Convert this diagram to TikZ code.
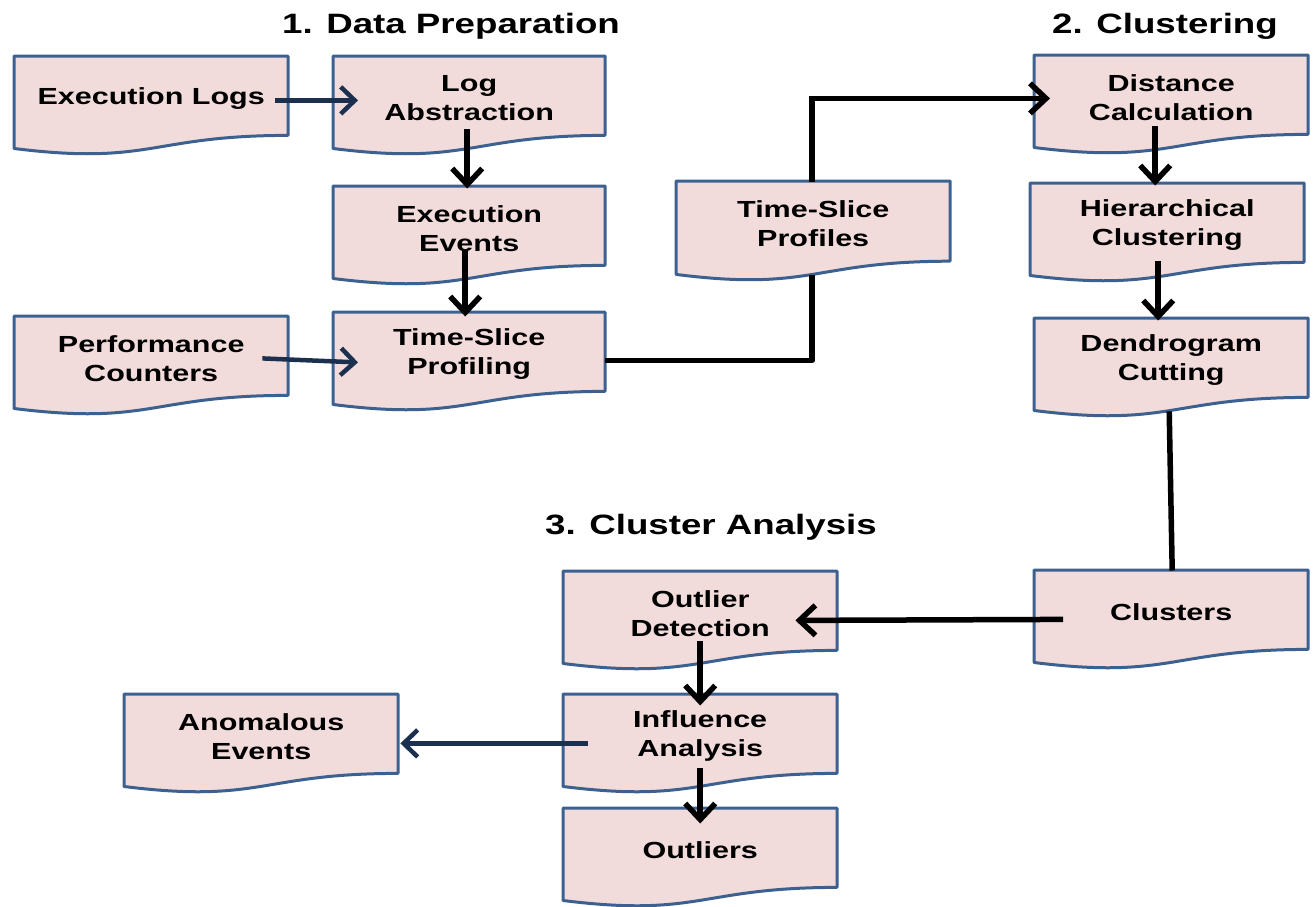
\documentclass[tikz,border=0pt]{standalone}
\usepackage{fontspec}
\newfontfamily\dfont{Liberation Sans}[FakeStretch=1.31]
\usetikzlibrary{arrows.meta,calc}
\pgfdeclarelayer{background}
\pgfsetlayers{background,main}

\definecolor{docfill}{HTML}{F2DCDB}
\definecolor{docline}{HTML}{3C6191}
\definecolor{navy}{HTML}{1B2F4F}

\tikzset{
  doctext/.style={inner sep=0pt, align=center, anchor=north west,
    font=\dfont\bfseries\fontsize{23.3}{29}\selectfont},
  docshape/.style={draw=docline, fill=docfill, line width=3pt, line join=round},
  heading/.style={anchor=base, font=\dfont\bfseries\fontsize{28}{32}\selectfont},
  flow/.style={draw=black, line width=5.5pt,
    -{Straight Barb[length=16pt,width=30pt]}},
  link/.style={draw=black, line width=5.5pt},
  feed/.style={draw=navy, line width=4.5pt,
    -{Straight Barb[length=14pt,width=27pt]}},
}

% \docbox{name}{x}{y}{width}{height}{text}: flowchart document symbol
% (outline from the raw corner; text node sits slightly lower)
\newcommand\docbox[6]{%
  \node[doctext, minimum width=#4pt, minimum height={0.802*#5pt}] (#1) at (#2,{#3+2.5}) {#6};
  \begin{pgfonlayer}{background}
    \path[docshape] (#2,#3) -- ({#2+#4},#3) -- ({#2+#4},{#3+0.802*#5})
      .. controls ({#2+0.5*#4},{#3+0.802*#5}) and ({#2+0.5*#4},{#3+1.1075*#5})
      .. (#2,{#3+0.934*#5}) -- cycle;
  \end{pgfonlayer}}

\begin{document}
\begin{tikzpicture}[x=1pt,y=-1pt]
\useasboundingbox (0,0) rectangle (1313,906);

% section headings
\node[heading] (h1) at (451,33) {1. Data Preparation};
\node[heading] (h2) at (1165,33) {2. Clustering};
\node[heading] (h3) at (711,534) {3. Cluster Analysis};

% 1. data preparation
\docbox{el}{14}{56}{274}{99}{Execution Logs}
\docbox{la}{333}{56}{272}{99}{Log\\Abstraction}
\docbox{ee}{333}{186}{272}{99}{Execution\\Events}
\docbox{pc}{14}{316}{274}{99}{Performance\\Counters}
\docbox{tsp}{333}{312}{272}{99}{Time-Slice\\Profiling}
\docbox{prof}{676}{181}{274}{100}{Time-Slice\\Profiles}

% 2. clustering
\docbox{dc}{1034}{55}{274}{99}{Distance\\Calculation}
\docbox{hc}{1030}{183}{274}{99}{Hierarchical\\Clustering}
\docbox{dg}{1034}{318}{274}{99}{Dendrogram\\Cutting}
\docbox{cl}{1034}{570}{274}{99}{Clusters}

% 3. cluster analysis
\docbox{od}{563}{571}{274}{99}{Outlier\\Detection}
\docbox{ia}{563}{694}{274}{99}{Influence\\Analysis}
\docbox{out}{563}{808}{274}{99}{Outliers}
\docbox{ae}{124}{694}{274}{99}{Anomalous\\Events}

% connectors
\draw[feed] ($(el.east)+(-13,2)$) -- ($(la.west)+(25,2)$);
\draw[flow] ($(la.south)+(-2,-9)$) -- ($(ee.north)+(-2,0)$);
\draw[flow] ($(ee.south)+(-4,-17)$) -- ($(tsp.north)+(-4,2)$);
\draw[feed] ($(pc.east)+(-26,0)$) -- ($(tsp.west)+(25,8)$);
\draw[link, line join=round] ($(tsp.east)+(0,6)$) -| ($(prof.south)+(-1,11)$);
\draw[flow] ($(prof.north)+(-1,-2)$) |- ($(dc.west)+(16,1)$);
\draw[flow] ($(dc.south)+(-16,-11)$) -- ($(hc.north)+(-12,0)$);
\draw[flow] ($(hc.south)+(-9,-4)$) -- ($(dg.north)+(-13,0)$);
\draw[link] ($(dg.south)+(-2,11)$) -- ($(cl.north)+(1,-2)$);
\draw[flow] ($(cl.west)+(29,7)$) -- ($(od.east)+(-42,7)$);
\draw[flow] ($(od.south)+(0,-12)$) -- ($(ia.north)+(0,9)$);
\draw[flow] ($(ia.south)+(0,-8)$) -- ($(out.north)+(0,13)$);
\draw[feed] ($(ia.west)+(25,7)$) -- ($(ae.east)+(2,7)$);
\end{tikzpicture}
\end{document}
